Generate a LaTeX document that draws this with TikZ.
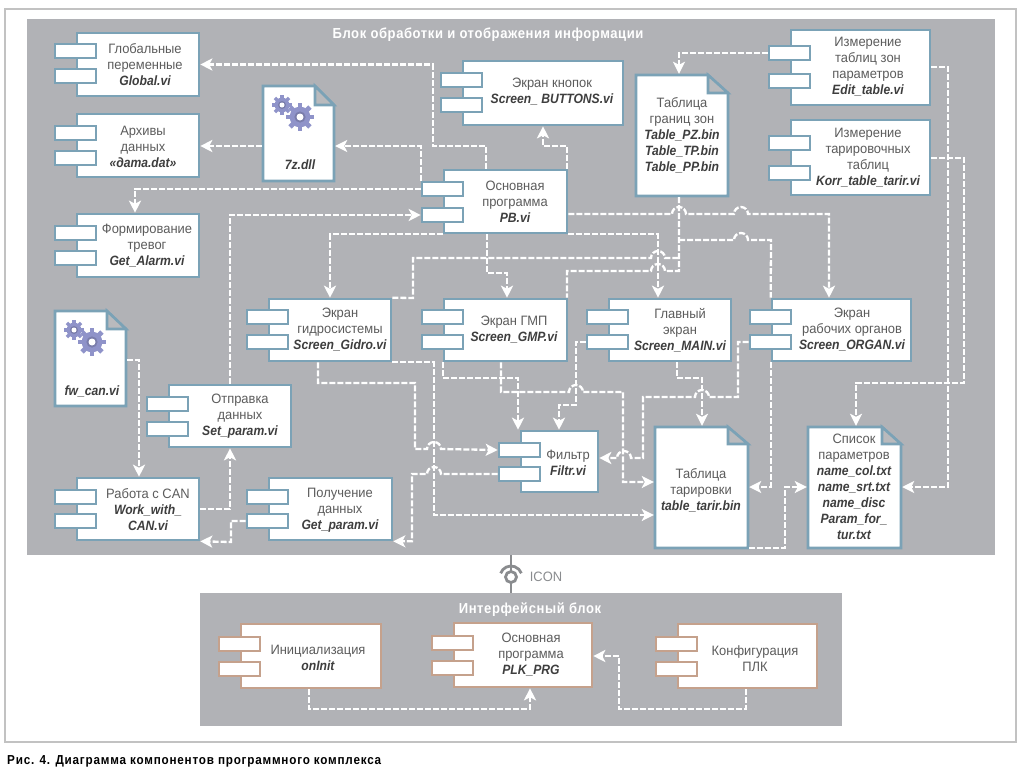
\documentclass[tikz,border=0pt]{standalone}
\usepackage{fontspec}
\setmainfont{Liberation Sans}[UprightFeatures={FakeStretch=0.95},BoldFeatures={FakeStretch=0.9},BoldItalicFeatures={FakeStretch=0.9}]
\usetikzlibrary{arrows.meta,fit}
\definecolor{bluec}{HTML}{7BA2B6}
\definecolor{tanc}{HTML}{C5A18C}
\definecolor{panelc}{HTML}{B1B2B6}
\definecolor{framec}{HTML}{C2C2C2}
\definecolor{txtc}{HTML}{5C5C5C}
\definecolor{boldc}{HTML}{3E3E3E}
\definecolor{gearc}{HTML}{8F93C9}
\definecolor{iconc}{HTML}{8A8C8F}
\tikzset{
  body/.style={draw=bluec,fill=white,line width=2.6pt,inner sep=0pt},
  ibody/.style={draw=tanc,fill=white,line width=2.6pt,inner sep=0pt},
  panel/.style={fill=panelc,inner sep=0pt},
  lbl/.style={align=center,text=txtc,inner sep=0pt,font=\fontsize{13.6}{16}\selectfont},
  ttl/.style={text=white,inner sep=0pt,font=\fontsize{14.5}{16}\selectfont\bfseries\addfontfeature{LetterSpace=4}},
  conn/.style={draw=white,line width=2.3pt,dash pattern=on 6pt off 2pt},
  arr/.style={conn,-{Stealth[length=12pt,width=12pt,inset=3pt,fill=white]}},
}
\newcommand{\bi}[1]{{\fontsize{13.5}{16}\selectfont\bfseries\itshape\color{boldc}#1}}
% body with two tabs: style, name, x1, y1, x2, y2, tab offsets
\newcommand{\comp}[7][body]{%
  \node[#1,fit={(#3+1,#4+1)(#5-1,#6-1)}] (#2) {};
  \node[#1,fit={(#3-21,#4+#7+1)(#3+20,#4+#7+15)}] (#2-a) {};
  \compB[#1]{#2}{#3}{#4}}
\newcommand{\compB}[5][body]{%
  \node[#1,fit={(#3-21,#4+#5+1)(#3+20,#4+#5+15)}] (#2-b) {};}
% document: name, x1, y1, x2, y2, fold x, fold y
\newcommand{\docu}[7]{%
  \node[inner sep=0pt,fit={(#2,#3)(#4,#5)}] (#1) {};
  \filldraw[bluec,fill=white,line width=2.6pt,line join=miter]
    (#2+1,#3+1) -- (#6,#3+1) -- (#4-1,#7) -- (#4-1,#5-1) -- (#2+1,#5-1) -- cycle;
  \filldraw[bluec,fill=panelc!90!white,line width=2.6pt] (#6,#3+1) -- (#6,#7) -- (#4-1,#7) -- cycle;}
\newcommand{\gearicon}[3]{%
  \fill[gearc] (#1,#2) circle[radius=0.74*#3];
  \foreach \a in {0,45,90,135}{
    \fill[gearc,rotate around={\a:(#1,#2)}] (#1-0.17*#3,#2-#3) rectangle (#1+0.17*#3,#2+#3);}
  \fill[gearc!85!black] (#1,#2) circle[radius=0.4*#3];
  \fill[white] (#1,#2) circle[radius=0.25*#3];}
\newcommand{\jr}[2]{-- (#1-7,#2) arc[start angle=180,end angle=360,radius=7]}
\newcommand{\jl}[2]{-- (#1+7,#2) arc[start angle=360,end angle=180,radius=7]}
\begin{document}
\begin{tikzpicture}[x=1pt,y=-1pt]
\useasboundingbox (0,0) rectangle (1024,782);
\fill[white] (0,0) rectangle (1024,782);
\node[draw=framec,line width=1.5pt,inner sep=0pt,fit={(5,9)(1016,742)}] (frame) {};
\node[panel,fit={(27,19)(995,555)}] (pan) {};
\node[panel,fit={(200,593)(842,726)}] (ipan) {};
\node[ttl] (pantitle) at (488,35) {Блок обработки и отображения информации};
\node[ttl] (ipantitle) at (530,610) {Интерфейсный блок};
% ICON
\draw[iconc,line width=2.6pt] (pan.south -| 511,0) -- (ipan.north -| 511,0);
\node[circle,draw=iconc,fill=white,line width=2.8pt,minimum size=11pt,inner sep=0pt] (ring) at (511,577) {};
\draw[iconc,line width=2.8pt] (511,577) ++(200:11) arc[start angle=200,end angle=340,radius=11];
\node[lbl,text=iconc] (icon) at (546,577) {ICON};
% components
\comp{global}{76}{32}{200}{97}{11}{36}
\node[lbl] (globalt) at (145,65) {Глобальные\\переменные\\\bi{Global.vi}};
\comp{archive}{76}{113}{200}{178}{12}{37}
\node[lbl] (archivet) at (143,147) {Архивы\\данных\\\bi{«дата.dat»}};
\comp{alarm}{76}{213}{200}{278}{12}{37}
\node[lbl] (alarmt) at (147,246) {Формирование\\тревог\\\bi{Get\_Alarm.vi}};
\comp{pb}{443}{169}{568}{234}{12}{38}
\node[lbl] (pbt) at (515,202) {Основная\\программа\\\bi{PB.vi}};
\comp{buttons}{462}{60}{624}{126}{12}{37}
\node[lbl] (buttonst) at (552,92) {Экран кнопок\\\bi{Screen\_ BUTTONS.vi}};
\comp{edit}{790}{29}{931}{106}{16}{44}
\node[lbl] (editt) at (868,67) {Измерение\\таблиц зон\\параметров\\\bi{Edit\_table.vi}};
\comp{korr}{790}{119}{931}{196}{16}{46}
\node[lbl] (korrt) at (868,158) {Измерение\\тарировочных\\таблиц\\\bi{Korr\_table\_tarir.vi}};
\comp{setp}{168}{384}{292}{448}{12}{37}
\node[lbl] (setpt) at (240,416) {Отправка\\данных\\\bi{Set\_param.vi}};
\comp{gidro}{268}{298}{392}{362}{11}{36}
\node[lbl] (gidrot) at (340,330) {Экран\\гидросистемы\\\bi{Screen\_Gidro.vi}};
\comp{gmp}{443}{298}{568}{362}{11}{36}
\node[lbl] (gmpt) at (514,330) {Экран ГМП\\\bi{Screen\_GMP.vi}};
\comp{main}{608}{298}{732}{362}{11}{36}
\node[lbl] (maint) at (680,330) {Главный\\экран\\\bi{Screen\_MAIN.vi}};
\comp{organ}{771}{298}{912}{362}{11}{36}
\node[lbl] (organt) at (852,330) {Экран\\рабочих органов\\\bi{Screen\_ORGAN.vi}};
\comp{work}{76}{477}{200}{541}{12}{36}
\node[lbl] (workt) at (148,510) {Работа с CAN\\\bi{Work\_with\_}\\\bi{CAN.vi}};
\comp{get}{268}{477}{393}{541}{12}{36}
\node[lbl] (gett) at (340,510) {Получение\\данных\\\bi{Get\_param.vi}};
\comp{filtr}{520}{430}{599}{493}{12}{36}
\node[lbl] (filtrt) at (568,463) {Фильтр\\\bi{Filtr.vi}};
\comp[ibody]{init}{240}{623}{382}{689}{13}{38}
\node[lbl] (initt) at (318,658) {Инициализация\\\bi{onInit}};
\comp[ibody]{plk}{453}{622}{593}{688}{13}{38}
\node[lbl] (plkt) at (531,655) {Основная\\программа\\\bi{PLK\_PRG}};
\comp[ibody]{config}{677}{623}{818}{689}{13}{38}
\node[lbl] (configt) at (755,659) {Конфигурация\\ПЛК};
% documents
\docu{zdll}{262}{85}{335}{182}{315}{105}
\gearicon{282}{105}{10}
\gearicon{300}{117}{14}
\node[lbl] (zdllt) at (300,165) {\bi{7z.dll}};
\docu{fw}{54}{310}{127}{407}{107}{329}
\gearicon{74}{330}{10}
\gearicon{92}{342}{14}
\node[lbl] (fwt) at (92,391) {\bi{fw\_can.vi}};
\docu{tz}{635}{74}{729}{197}{708}{93}
\node[lbl] (tzt) at (682,135) {Таблица\\границ зон\\\bi{Table\_PZ.bin}\\\bi{Table\_TP.bin}\\\bi{Table\_PP.bin}};
\docu{tarir}{654}{426}{749}{549}{728}{444}
\node[lbl] (tarirt) at (701,490) {Таблица\\тарировки\\\bi{table\_tarir.bin}};
\docu{list}{807}{426}{902}{549}{882}{444}
\node[lbl] (listt) at (854,487) {Список\\параметров\\\bi{name\_col.txt}\\\bi{name\_srt.txt}\\\bi{name\_disc}\\\bi{Param\_for\_}\\\bi{tur.txt}};
% connectors
\draw[arr] (pb.north -| 486,0) |- (433,146) |- (global.east);
\draw[arr] (pb-a.north west) |- (zdll.east |- 0,146);
\draw[arr] (zdll.west |- 0,146) -- (archive.east |- 0,146);
\draw[arr] (pb-a.west) -| (alarm.north -| 135,0);
\draw[arr] (setp.north -| 230,0) |- (pb-b.west);
\draw[arr] (pb.south west) -| (gidro.north -| 330,0);
\draw[arr] (pb.south -| 487,0) |- (507,273) -- (gmp.north -| 507,0);
\draw[arr] (pb.south east) -| (main.north -| 658,0);
\draw[arr] (pb.east |- 0,214) \jr{679}{214} \jr{741}{214} -- (829,214) -- (organ.north -| 829,0);
\draw[conn] (gidro.north east) -- (413,298) -- (413,258) \jr{658}{258} -- (679,258);
\draw[conn] (tz.south -| 679,0) -- (679,271) \jl{658}{271} -- (567,271) -- (gmp.north -| 567,0);
\draw[conn] (679,240) \jr{741}{240} -- (771,240) -- (organ.north west);
\draw[arr] (organ.south west) |- (tarir.east |- 0,487);
\draw[arr] (edit-a.west) -| (tz.north -| 679,0);
\draw[arr] (pb.north -| 567,0) |- (543,146) -- (buttons.south -| 543,0);
\draw[arr] (edit.east |- 0,67) -| (948,487) -- (list.east |- 0,487);
\draw[arr] (korr.east |- 0,158) -| (964,383) -| (list.north -| 856,0);
\draw[arr] (tarir.east |- 0,548) -| (785,487) -- (list.west |- 0,487);
\draw[arr] (fw.east |- 0,360) -| (work.north -| 139,0);
\draw[arr] (work.east) -| (setp.south -| 230,0);
\draw[arr] (get-b.west) -| (231,542) -- (work.south east);
\draw[arr] (filtr-b.west) \jl{434}{474} -- (412,474) |- (get.south east);
\draw[arr] (gidro.south -| 318,0) |- (415,383) -- (415,449) \jr{434}{449} -- (filtr-a.west);
\draw[arr] (gidro.south east) -| (434,515) -- (tarir.west |- 0,515);
\draw[arr] (gmp.south -| 443,0) |- (518,378) -- (filtr.north -| 518,0);
\draw[arr] (gmp.south -| 501,0) -- (501,392) \jr{576}{392} -- (623,392) |- (tarir.west |- 0,482);
\draw[arr] (main-b.west) -| (576,405) -| (filtr.north -| 559,0);
\draw[arr] (main.south -| 677,0) |- (702,378) -- (tarir.north -| 702,0);
\draw[arr] (organ-b.west) -| (738,397) \jl{702}{397} -- (643,397) -- (643,458) \jl{624}{458} -- (filtr.east |- 0,458);
\draw[arr] (init.south -| 309,0) |- (530,709) -- (plk.south -| 530,0);
\draw[arr] (config.south -| 746,0) |- (619,709) |- (plk.east |- 0,656);
% caption
\node[anchor=west,inner sep=0pt,font=\fontsize{13}{14}\selectfont\bfseries\addfontfeature{LetterSpace=6},text=black] (caption) at (7,761) {Рис. 4. Диаграмма компонентов программного комплекса};
\end{tikzpicture}
\end{document}
